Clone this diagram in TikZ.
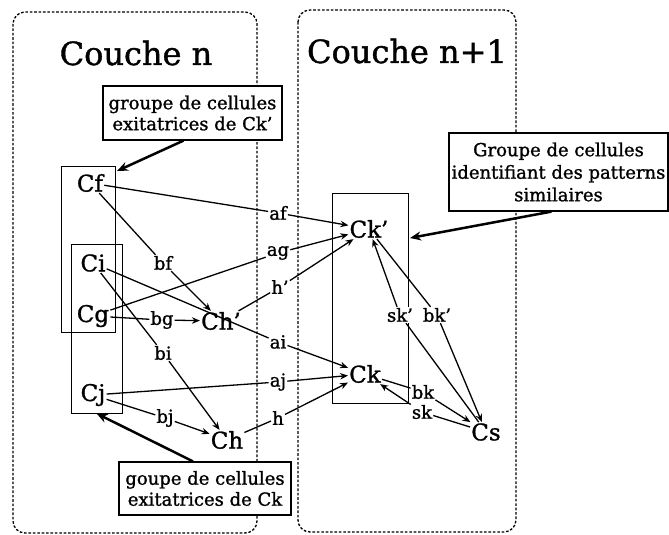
\documentclass[tikz,border=0pt]{standalone}
\usepackage{fontspec}
\setmainfont{DejaVu Serif}[BoldFont=DejaVu Serif, BoldFeatures={FakeBold=1.2}]
\usetikzlibrary{arrows.meta}
\begin{document}
\begin{tikzpicture}[x=1pt,y=-1pt,
  layer/.style={draw, dash pattern=on 2.6pt off 1.8pt, line width=1.3pt, rounded corners=12pt},
  grp/.style={draw, line width=0.9pt, inner sep=0pt},
  title/.style={font=\fontsize{32}{36}\selectfont\bfseries, inner sep=0pt},
  cell/.style={font=\fontsize{23}{26}\selectfont\bfseries, inner sep=1pt},
  lbl/.style={font=\fontsize{18}{20}\selectfont\bfseries, inner sep=1pt, fill=white},
  note/.style={draw, line width=1.2pt, fill=white, align=center, inner sep=2pt, font=\fontsize{18}{21}\selectfont\bfseries},
  link/.style={line width=1.3pt},
  tip/.style={line width=1.3pt, -{Stealth[length=8pt,width=6.5pt]}},
  bigtip/.style={line width=2.5pt, -{Stealth[length=11pt,width=9pt]}},
]
\useasboundingbox (0,0) rectangle (669,535);

% layers
\draw[layer] (13,12) rectangle (257,533);
\draw[layer] (298,10) rectangle (516,532);
\node[title, anchor=base] (t1) at (136,65) {Couche n};
\node[title, anchor=base] (t2) at (407,63) {Couche n+1};

% groups
\node[grp, minimum width=54, minimum height=166] (rA) at (88,249) {};
\node[grp, minimum width=51, minimum height=169] (rB) at (96.5,328.5) {};
\node[grp, minimum width=76, minimum height=210] (rK) at (370,298) {};

% notes
\node[note, minimum width=179, minimum height=54] (note1) at (192.5,113) {groupe de cellules\\exitatrices de Ck'};
\node[note, minimum width=172, minimum height=53] (note2) at (205,488.5) {goupe de cellules\\exitatrices de Ck};
\node[note, minimum width=219, minimum height=78, font=\fontsize{18}{22.5}\selectfont\bfseries] (note3) at (558.5,172) {Groupe de cellules\\identifiant des patterns\\similaires};

% cells
\node[cell] (Cf) at (90,183) {Cf};
\node[cell] (Ci) at (93,263) {Ci};
\node[cell] (Cg) at (93,316) {Cg};
\node[cell] (Cj) at (93,395) {Cj};
\node[cell] (Chp) at (221,321) {Ch'};
\node[cell] (Ch) at (227,440) {Ch};
\node[cell] (Ckp) at (369,229) {Ck'};
\node[cell] (Ck) at (365,374) {Ck};
\node[cell] (Cs) at (486,432) {Cs};

% labels
\node[lbl] (af) at (278,213) {af};
\node[lbl] (ag) at (278,253) {ag};
\node[lbl] (hp) at (280,287) {h'};
\node[lbl] (ai) at (278,342) {ai};
\node[lbl] (aj) at (278,382) {aj};
\node[lbl] (h) at (278,418) {h};
\node[lbl] (bf) at (163,263) {bf};
\node[lbl] (bg) at (162,320) {bg};
\node[lbl] (bi) at (163,353) {bi};
\node[lbl] (bj) at (165,418) {bj};
\node[lbl] (skp) at (400,315) {sk'};
\node[lbl] (bkp) at (437,315) {bk'};
\node[lbl] (bk) at (423,392) {bk};
\node[lbl] (sk) at (422,412) {sk};

% connectors
\draw[link] (Cf) -- (af);  \draw[tip] (af) -- (Ckp);
\draw[link] (Cg) -- (ag);  \draw[tip] (ag) -- (Ckp);
\draw[link] (Chp) -- (hp); \draw[tip] (hp) -- (Ckp);
\draw[link] (Ci) -- (ai);  \draw[tip] (ai) -- (Ck);
\draw[link] (Cj) -- (aj);  \draw[tip] (aj) -- (Ck);
\draw[link] (Ch) -- (h);   \draw[tip] (h) -- (Ck);
\draw[link] (Cf) -- (bf);  \draw[tip] (bf) -- (Chp);
\draw[link] (Cg) -- (bg);  \draw[tip] (bg) -- (Chp);
\draw[link] (Ci) -- (bi);  \draw[tip] (bi) -- (Ch);
\draw[link] (Cj) -- (bj);  \draw[tip] (bj) -- (Ch);
\draw[link] (Ckp) -- (bkp); \draw[tip] (bkp) -- (Cs);
\draw[link] (Cs) -- (skp); \draw[tip] (skp) -- (Ckp);
\draw[link] (Ck) -- (bk);  \draw[tip] (bk) -- (Cs);
\draw[link] (Cs) -- (sk);  \draw[tip] (sk) -- (Ck);

% group pointers
\coordinate (pA) at (117,171);
\coordinate (pK) at (410,238);
\draw[bigtip] ([xshift=-9pt]note1.south) -- (pA);
\draw[bigtip] ([xshift=-7pt]note3.south) -- (pK);
\draw[bigtip] ([xshift=-12pt]note2.north) -- (rB.south);
\end{tikzpicture}
\end{document}
